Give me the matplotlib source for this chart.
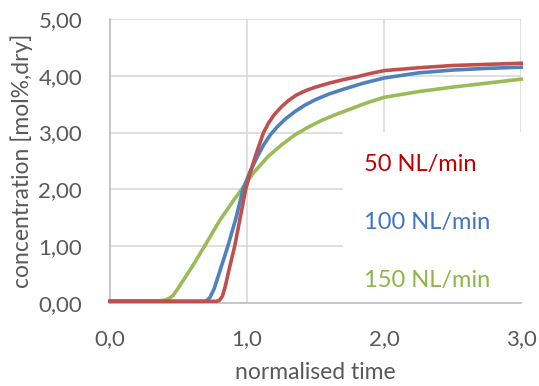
import matplotlib.pyplot as plt
import matplotlib.patches as patches

plt.rcParams['font.family'] = ['Lato', 'DejaVu Sans']

# 50 NL/min
red_t = [0, 0.78, 0.8, 0.82, 0.84, 0.87, 0.91, 0.95, 0.99, 1.03, 1.07, 1.12, 1.16, 1.2, 1.25,
         1.3, 1.36, 1.43, 1.5, 1.6, 1.7, 1.8, 1.9, 2.0, 2.25, 2.5, 2.75, 3.0]
red_c = [0.03, 0.03, 0.05, 0.12, 0.28, 0.6, 1.0, 1.5, 2.0, 2.35, 2.65, 3.0, 3.18, 3.32, 3.45,
         3.56, 3.66, 3.74, 3.8, 3.87, 3.93, 3.98, 4.04, 4.09, 4.14, 4.18, 4.2, 4.22]
# 100 NL/min
blue_t = [0, 0.69, 0.71, 0.73, 0.76, 0.8, 0.86, 0.92, 0.97, 1.02, 1.07, 1.12, 1.17, 1.22, 1.28,
          1.35, 1.42, 1.5, 1.6, 1.7, 1.85, 2.0, 2.25, 2.5, 2.75, 3.0]
blue_c = [0.03, 0.03, 0.05, 0.1, 0.25, 0.55, 1.0, 1.5, 2.0, 2.3, 2.55, 2.78, 2.96, 3.1, 3.24,
          3.37, 3.48, 3.58, 3.68, 3.76, 3.87, 3.96, 4.05, 4.1, 4.13, 4.15]
# 150 NL/min
green_t = [0, 0.36, 0.4, 0.43, 0.46, 0.5, 0.6, 0.69, 0.8, 0.9, 0.96, 1.05, 1.15, 1.25, 1.35,
           1.45, 1.55, 1.65, 1.75, 1.87, 2.0, 2.25, 2.5, 2.75, 3.0]
green_c = [0.04, 0.04, 0.05, 0.08, 0.13, 0.27, 0.64, 1.0, 1.45, 1.8, 2.0, 2.3, 2.57, 2.78, 2.96,
           3.1, 3.22, 3.32, 3.41, 3.52, 3.62, 3.72, 3.8, 3.87, 3.94]

labels = ["50 NL/min", "100 NL/min", "150 NL/min"]
colors = ["#C0504D", "#4F81BD", "#9BBB59"]
text_colors = ["#C00000", "#4472C4", "#8DB54A"]

fig = plt.figure(figsize=(5.39, 3.86), dpi=100)
ax = fig.add_axes([0.204, 0.215, 0.763, 0.736])

ax.set_xlim(0, 3)
ax.set_ylim(0, 5)
ax.set_xticks([0, 1, 2, 3])
ax.set_xticklabels(["0,0", "1,0", "2,0", "3,0"])
ax.set_yticks([0, 1, 2, 3, 4, 5])
ax.set_yticklabels(["0,00", "1,00", "2,00", "3,00", "4,00", "5,00"])
ax.tick_params(length=0, labelsize=16, labelcolor="#595959")
ax.tick_params(axis="y", pad=20)
ax.tick_params(axis="x", pad=19)
ax.grid(True, color="#D9D9D9", linewidth=1.2, zorder=0)
ax.set_axisbelow(True)
for s in ["top", "right"]:
    ax.spines[s].set_visible(False)
for s in ["left", "bottom"]:
    ax.spines[s].set_color("#BFBFBF")
    ax.spines[s].set_linewidth(1.2)

ax.set_xlabel("normalised time", fontsize=16.5, color="#595959", labelpad=9)
ax.set_ylabel("concentration [mol%,dry]", fontsize=16.5, color="#595959", labelpad=4)

# white text box over the grid
ax.add_patch(patches.Rectangle((0.567, 0.003), 0.433, 0.6, transform=ax.transAxes,
                               facecolor="white", edgecolor="none", zorder=1))

ax.plot(green_t, green_c, color=colors[2], linewidth=2.6, zorder=3, clip_on=False)
ax.plot(blue_t, blue_c, color=colors[1], linewidth=2.6, zorder=4, clip_on=False)
ax.plot(red_t, red_c, color=colors[0], linewidth=2.6, zorder=5, clip_on=False)

for lbl, c, y in zip(labels, text_colors, [2.43, 1.41, 0.39]):
    ax.text(1.85, y, lbl, color=c, fontsize=17, ha="left", va="center", zorder=6)

fig.savefig("out.png", dpi=100)
